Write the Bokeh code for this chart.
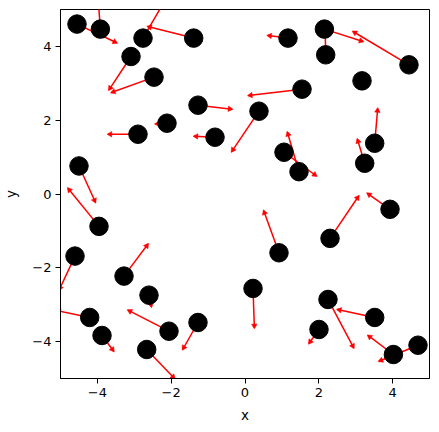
import numpy as np
from bokeh.plotting import figure
from bokeh.models import Range1d, FixedTicker, ColumnDataSource
from bokeh.embed import file_html
from bokeh.resources import INLINE

# point positions
xs = [-4.553, -3.919, -2.764, -1.390, -3.089, -2.466, -1.274, -2.114, -2.900, -0.813,
      0.379, -4.499, -3.957, 1.165, 2.152, 2.187, 4.444, 3.171, 1.545, 1.057,
      1.463, 3.515, 3.244, -4.607, -3.279, -2.602, -4.209, -3.875, -2.060, -1.274,
      -2.664, 0.921, 2.304, 3.930, 0.217, 2.249, 3.515, 2.005, 4.022, 4.688]
ys = [4.605, 4.469, 4.225, 4.225, 3.726, 3.167, 2.407, 1.919, 1.620, 1.539,
      2.244, 0.760, -0.877, 4.225, 4.469, 3.772, 3.501, 3.066, 2.841, 1.132,
      0.605, 1.376, 0.833, -1.682, -2.225, -2.741, -3.346, -3.834, -3.718, -3.482,
      -4.214, -1.593, -1.202, -0.415, -2.559, -2.858, -3.346, -3.672, -4.350, -4.098]
# arrow components
us = [1.076, -0.051, 0.568, -1.247, -0.597, -1.155, 0.922, -0.314, -0.813, -0.569,
      -0.739, 0.445, -0.840, -0.550, 1.046, -0.014, -1.517, 0.080, -1.453, 0.878,
      -0.314, 0.081, -0.198, -0.427, 0.650, 0.065, -0.891, 0.317, -1.111, -0.414,
      0.754, -0.414, 0.777, -0.613, 0.038, 0.697, -1.011, -0.271, -0.689, -1.057]
vs = [-0.507, 0.681, 0.975, 0.315, -0.904, -0.418, -0.109, -0.019, 0.000, 0.027,
      -1.096, -0.985, 1.032, 0.071, -0.336, 0.624, 0.903, -0.060, -0.173, -0.644,
      1.069, 0.939, 0.651, -0.915, 0.868, -0.317, 0.186, -0.427, 0.570, -0.732,
      -0.786, 1.140, 1.148, 0.434, -1.069, -1.313, 0.217, -0.380, 0.516, -0.434]
tick_values = [-4, -2, 0, 2, 4]
tick_labels = ["\u22124", "\u22122", "0", "2", "4"]

x = np.array(xs)
y = np.array(ys)
u = np.array(us)
v = np.array(vs)
xe = x + u
ye = y + v
ang = np.arctan2(v, u)
back = 2.2 / 36.9
hx = xe - back * np.cos(ang)
hy = ye - back * np.sin(ang)

src = ColumnDataSource(dict(x=x, y=y, xe=xe, ye=ye, hx=hx, hy=hy, ha=ang - np.pi / 2))

p = figure(frame_width=369, frame_height=369,
           x_range=Range1d(-5, 5), y_range=Range1d(-5, 5),
           output_backend="svg", toolbar_location=None,
           min_border_left=54, min_border_top=9, min_border_right=2, min_border_bottom=44,
           background_fill_color="white", border_fill_color="white")

p.segment(x0="x", y0="y", x1="xe", y1="ye", source=src, line_color="red", line_width=1.5)
p.scatter(x="hx", y="hy", angle="ha", marker="triangle", size=5.5, source=src,
          fill_color="red", line_color="red", line_width=0.5)
p.scatter(x="x", y="y", size=18.5, source=src, fill_color="black", line_color="black")

p.grid.visible = False
p.outline_line_color = "black"
p.outline_line_width = 1
p.outline_line_alpha = 1

for ax in (p.xaxis[0], p.yaxis[0]):
    ax.ticker = FixedTicker(ticks=tick_values)
    ax.major_label_overrides = {t: l for t, l in zip(tick_values, tick_labels)}
    ax.minor_tick_line_color = None
    ax.major_tick_in = 0
    ax.major_tick_out = 5
    ax.major_tick_line_color = "black"
    ax.axis_line_color = "black"
    ax.major_label_text_font = "DejaVu Sans"
    ax.major_label_text_font_size = "13px"
    ax.major_label_text_color = "black"
    ax.axis_label_text_font = "DejaVu Sans"
    ax.axis_label_text_font_size = "13.5px"
    ax.axis_label_text_font_style = "normal"
    ax.axis_label_text_color = "black"
    ax.major_label_standoff = 4

p.xaxis.axis_label = "x"
p.yaxis.axis_label = "y"
p.xaxis.axis_label_standoff = 7
p.yaxis.axis_label_standoff = 10
p.yaxis.major_label_orientation = "horizontal"

open("out.html", "w").write(file_html(p, INLINE))
